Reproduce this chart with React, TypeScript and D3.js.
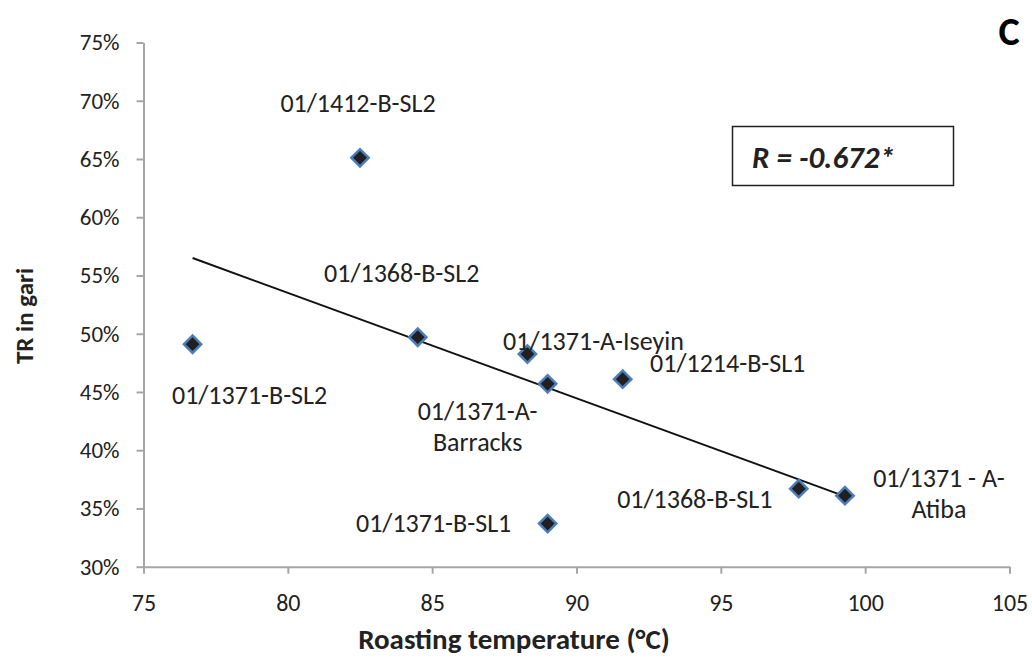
import React from 'react';
import * as d3 from 'd3';
import { useEffect, useRef } from 'react';

// genotype labels, roasting temperature (°C) and TR in gari (%)
const genotypes = [
    '01/1412-B-SL2',
    '01/1371-B-SL2',
    '01/1368-B-SL2',
    '01/1371-A-Iseyin',
    '01/1371-A-Barracks',
    '01/1214-B-SL1',
    '01/1371-B-SL1',
    '01/1368-B-SL1',
    '01/1371 - A-Atiba',
];
const temperature = [82.5, 76.7, 84.5, 88.3, 89.0, 91.6, 89.0, 97.7, 99.3];
const trValue = [65.1, 49.1, 49.7, 48.25, 45.7, 46.1, 33.7, 36.7, 36.1];

const xTicks = [75, 80, 85, 90, 95, 100, 105];
const yTicks = [30, 35, 40, 45, 50, 55, 60, 65, 70, 75];

const correlationText = 'R = -0.672*';

// where each data label sits relative to its marker (lines, dx, dy per line)
const labelLayout: { [k: string]: { lines: string[]; dx: number; dy: number[] } } = {
    '01/1412-B-SL2': { lines: ['01/1412-B-SL2'], dx: -2, dy: [-55] },
    '01/1371-B-SL2': { lines: ['01/1371-B-SL2'], dx: 57, dy: [51] },
    '01/1368-B-SL2': { lines: ['01/1368-B-SL2'], dx: -16, dy: [-64] },
    '01/1371-A-Iseyin': { lines: ['01/1371-A-Iseyin'], dx: 66, dy: [-13] },
    '01/1371-A-Barracks': { lines: ['01/1371-A-', 'Barracks'], dx: -70, dy: [27, 58] },
    '01/1214-B-SL1': { lines: ['01/1214-B-SL1'], dx: 105, dy: [-16] },
    '01/1371-B-SL1': { lines: ['01/1371-B-SL1'], dx: -114, dy: [-1] },
    '01/1368-B-SL1': { lines: ['01/1368-B-SL1'], dx: -104, dy: [10] },
    '01/1371 - A-Atiba': { lines: ['01/1371 - A-', 'Atiba'], dx: 94, dy: [-18, 13] },
};

const width = 1032;
const height = 659;
const font = "Carlito, Calibri, Lato, 'Open Sans', sans-serif";

const App = () => {
    const chartRef = useRef<SVGSVGElement | null>(null);

    useEffect(() => {
        const svg = d3.select(chartRef.current);
        svg.selectAll('*').remove();

        const xScale = d3.scaleLinear().domain([75, 105]).range([143.5, 1009.5]);
        const yScale = d3.scaleLinear().domain([30, 75]).range([566.7, 42.5]);
        const axisColour = '#a6a6a6';

        const xAxis = svg.append('g')
            .attr('transform', `translate(0, ${yScale(30)})`)
            .call(d3.axisBottom(xScale).tickValues(xTicks).tickSize(7).tickSizeOuter(0).tickPadding(20).tickFormat(d => String(d)));
        xAxis.select('.domain').attr('stroke', axisColour).attr('stroke-width', 2);
        xAxis.selectAll('.tick line').attr('stroke', axisColour).attr('stroke-width', 2);
        xAxis.selectAll('.tick text')
            .style('font-family', font)
            .style('font-size', '24px')
            .attr('fill', '#222');

        const yAxis = svg.append('g')
            .attr('transform', `translate(${xScale(75)}, 0)`)
            .call(d3.axisLeft(yScale).tickValues(yTicks).tickSize(7).tickSizeOuter(0).tickPadding(17).tickFormat(d => `${d}%`));
        yAxis.select('.domain').attr('stroke', axisColour).attr('stroke-width', 2);
        yAxis.selectAll('.tick line').attr('stroke', axisColour).attr('stroke-width', 2);
        yAxis.selectAll('.tick text')
            .style('font-family', font)
            .style('font-size', '23px')
            .attr('fill', '#222');

        // least squares trend line
        const meanX = d3.mean(temperature) ?? 0;
        const meanY = d3.mean(trValue) ?? 0;
        const sxy = d3.sum(temperature, (t, i) => (t - meanX) * (trValue[i] - meanY));
        const sxx = d3.sum(temperature, t => (t - meanX) ** 2);
        const slope = sxy / sxx;
        const intercept = meanY - slope * meanX;
        const [minX, maxX] = d3.extent(temperature) as [number, number];

        const line = d3.line<number>()
            .x(d => xScale(d))
            .y(d => yScale(intercept + slope * d));
        svg.append('path')
            .attr('d', line([minX, maxX]))
            .attr('stroke', '#111')
            .attr('stroke-width', 2)
            .attr('fill', 'none');

        const symbol = d3.symbol().type(d3.symbolSquare).size(150);
        const points = genotypes.map((g, i) => ({ name: g, x: temperature[i], y: trValue[i] }));

        svg.selectAll('.pt')
            .data(points)
            .enter()
            .append('path')
            .attr('class', 'pt')
            .attr('d', symbol)
            .attr('transform', d => `translate(${xScale(d.x)}, ${yScale(d.y)}) rotate(45)`)
            .attr('fill', '#231f20')
            .attr('stroke', '#4a7ebb')
            .attr('stroke-width', 2.5);

        points.forEach(p => {
            const layout = labelLayout[p.name];
            layout.lines.forEach((txt, j) => {
                svg.append('text')
                    .attr('x', xScale(p.x) + layout.dx)
                    .attr('y', yScale(p.y) + layout.dy[j])
                    .attr('text-anchor', 'middle')
                    .attr('dominant-baseline', 'central')
                    .style('font-family', font)
                    .style('font-size', '26px')
                    .attr('fill', '#222')
                    .text(txt);
            });
        });

        // axis titles
        svg.append('text')
            .attr('x', 514)
            .attr('y', 649)
            .attr('text-anchor', 'middle')
            .style('font-family', font)
            .style('font-size', '29px')
            .style('font-weight', 'bold')
            .attr('fill', '#222')
            .text('Roasting temperature (°C)');

        svg.append('text')
            .attr('transform', `translate(33, 316) rotate(-90)`)
            .attr('text-anchor', 'middle')
            .style('font-family', font)
            .style('font-size', '25px')
            .style('font-weight', 'bold')
            .attr('fill', '#222')
            .text('TR in gari');

        // panel letter
        svg.append('text')
            .attr('x', 1009)
            .attr('y', 45)
            .attr('text-anchor', 'middle')
            .style('font-family', font)
            .style('font-size', '40px')
            .style('font-weight', 'bold')
            .attr('fill', '#000')
            .text('C');

        // correlation box
        svg.append('rect')
            .attr('x', 732.5)
            .attr('y', 126.5)
            .attr('width', 221)
            .attr('height', 59)
            .attr('fill', '#fff')
            .attr('stroke', '#222')
            .attr('stroke-width', 1.5);
        svg.append('text')
            .attr('x', 752)
            .attr('y', 168)
            .style('font-family', font)
            .style('font-size', '31px')
            .style('font-weight', 'bold')
            .style('font-style', 'italic')
            .attr('fill', '#222')
            .text(correlationText);
    }, []);

    return (
        <svg ref={chartRef} width={width} height={height}
            style={{ position: 'absolute', left: 0, top: 0, background: '#fff' }}></svg>
    );
};

export default App;
